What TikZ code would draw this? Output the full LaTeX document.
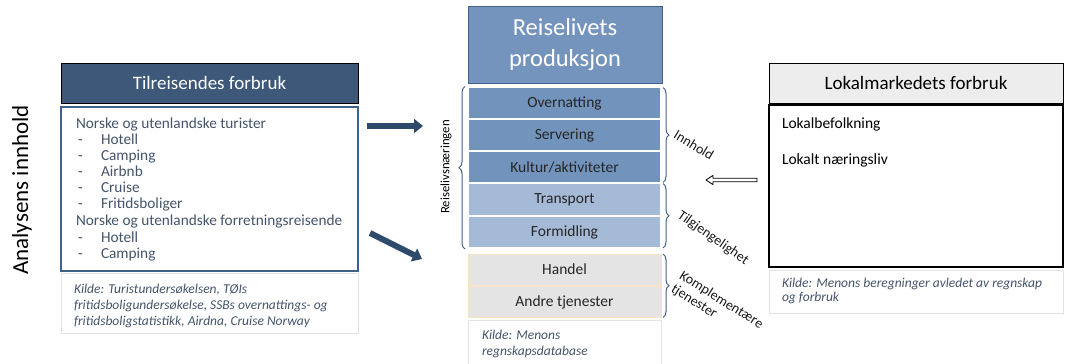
\documentclass[tikz,border=0pt]{standalone}
\usepackage{fontspec}
\setmainfont{Carlito}
\usetikzlibrary{decorations.pathreplacing,arrows.meta,calc}
\definecolor{hdrblue}{HTML}{3D5878}
\definecolor{boxblue}{HTML}{41618A}
\definecolor{midblue}{HTML}{7494BD}
\definecolor{itemblue}{HTML}{7293BC}
\definecolor{lightblue}{HTML}{A5BAD6}
\definecolor{itemgray}{HTML}{E4E4E4}
\definecolor{peach}{HTML}{FAE2C6}
\definecolor{srcgray}{HTML}{E3E3E3}
\definecolor{txtslate}{HTML}{44546A}
\definecolor{arrownavy}{HTML}{2E4A6B}
\newcommand{\fsz}[2]{\fontsize{#1}{#2}\selectfont}
\begin{document}
\begin{tikzpicture}[x=1pt,y=-1pt,
  every node/.style={inner sep=0pt,outer sep=0pt},
  hdrbox/.style={draw=black,line width=1pt,minimum height=40pt},
  srcbox/.style={draw=srcgray,line width=0.8pt},
  srctxt/.style={font=\fsz{13.5}{16}\itshape,text=txtslate,align=left,anchor=west},
  listtxt/.style={font=\fsz{15.3}{17},text=txtslate,anchor=base west},
  itembox/.style={minimum width=193pt,font=\fsz{15.5}{17},text=black!85,draw=white,line width=1.2pt},
  bluegrp/.style={itembox,fill=itemblue},
  lightgrp/.style={itembox,fill=lightblue},
  graygrp/.style={itembox,fill=itemgray,draw=peach,line width=0.8pt},
  bracestyle/.style={draw=boxblue,line width=1pt,decorate,decoration={brace,amplitude=6pt}},
  bracelbl/.style={font=\fsz{14}{15.5},text=black!90},
  thickarrow/.style={draw=arrownavy,line width=6pt,-{Triangle[length=9pt,width=14pt]}}
]
\useasboundingbox (0,0) rectangle (1066,364);
\clip (0,0) rectangle (1066,364);

% ---------- left column ----------
\node[rotate=90,font=\fsz{23}{25}] (ai) at (22,190) {Analysens innhold};
\node[hdrbox,fill=hdrblue,minimum width=297pt,text=white,font=\fsz{19}{21}] (th) at (209.5,83) {Tilreisendes forbruk};
\node[draw=boxblue,line width=1.4pt,minimum width=297pt,minimum height=164pt] (tc) at (209.5,189) {};
\node[srcbox,minimum width=297pt,minimum height=60pt] (ts) at (209.5,303) {};

\node[listtxt] (l1) at (76,128.5) {Norske og utenlandske turister};
\foreach \nm/\yy/\txt in {l2/144.5/Hotell,l3/160.5/Camping,l4/176.5/Airbnb,l5/192.5/Cruise,l6/208/Fritidsboliger,l8/242.5/Hotell,l9/258.5/Camping}{
  \node[listtxt] (\nm d) at (78,\yy) {-};
  \node[listtxt] (\nm) at (101,\yy) {\txt};
}
\node[listtxt] (l7) at (76,225.5) {Norske og utenlandske forretningsreisende};
\node[srctxt,font=\fsz{13.5}{16.3}\itshape] (tst) at (74,306) {Kilde: Turistundersøkelsen, TØIs\\fritidsboligundersøkelse, SSBs overnattings- og\\fritidsboligstatistikk, Airdna, Cruise Norway};

% ---------- middle column ----------
\node[draw=boxblue,line width=1pt,fill=midblue,minimum width=194pt,minimum height=77pt,text=white,font=\fsz{24.5}{31},align=center] (rp) at (565,44.5) {Reiselivets\\produksjon};
\node[bluegrp,minimum height=31pt] (ov) at (564.5,103) {Overnatting};
\node[bluegrp,minimum height=31pt] (se) at (564.5,135) {Servering};
\node[bluegrp,minimum height=31pt] (ku) at (564.5,167) {Kultur/aktiviteter};
\node[lightgrp,minimum height=32pt] (tr) at (564.5,199.5) {Transport};
\node[lightgrp,minimum height=32pt] (fo) at (564.5,232) {Formidling};
\node[graygrp,minimum height=31pt] (ha) at (564.5,269.5) {Handel};
\node[graygrp,minimum height=31pt] (an) at (564.5,302) {Andre tjenester};
\node[srcbox,minimum width=193pt,minimum height=60pt] (ms) at (564.5,350) {};
\node[srctxt] (mst) at (482,344) {Kilde: Menons\\regnskapsdatabase};

% braces
\draw[bracestyle] ($(fo.south west)+(-3,1)$) -- ($(ov.north west)+(-3,-1)$);
\node[rotate=90,font=\fsz{12.8}{14}] (rn) at (446,167) {Reiselivsnæringen};
\draw[bracestyle] ($(ov.north east)+(2,0)$) -- ($(ku.south east)+(2,0)$);
\draw[bracestyle] ($(tr.north east)+(2,0)$) -- ($(fo.south east)+(2,0)$);
\draw[bracestyle] ($(ha.north east)+(2,0)$) -- ($(an.south east)+(2,0)$);
\node[bracelbl,rotate=-31] (lin) at (694,145) {Innhold};
\node[bracelbl,rotate=-35] (ltg) at (713,238) {Tilgjengelighet};
\node[bracelbl,rotate=-32,align=left] (lko) at (717,307) {Komplementære\\tjenester};

% arrows
\coordinate (a1s) at (367,126);
\coordinate (a1e) at (423,126);
\coordinate (a2s) at (370,233);
\coordinate (a2e) at (422,259);
\draw[thickarrow] (a1s) -- (a1e);
\draw[thickarrow] (a2s) -- (a2e);

% ---------- right column ----------
\node[hdrbox,fill=black!7,minimum width=294pt,text=black,font=\fsz{19}{21}] (lh) at (916,83) {Lokalmarkedets forbruk};
\node[draw=black,line width=1.6pt,minimum width=294pt,minimum height=162pt] (lc) at (916,186) {};
\node[font=\fsz{15.5}{17},anchor=base west] (lb) at (782,128) {Lokalbefolkning};
\node[font=\fsz{15.5}{17},anchor=base west] (ln) at (782,164.5) {Lokalt næringsliv};
\node[srcbox,minimum width=294pt,minimum height=43pt] (ls) at (916,291.5) {};
\node[srctxt,font=\fsz{13.5}{14.5}\itshape] (lst) at (782,291) {Kilde: Menons beregninger avledet av regnskap\\og forbruk};

% hollow arrow from local market
\coordinate (a3s) at (757,180);
\draw[black,line width=0.8pt,fill=white] (a3s) -- ++(0,-1.8) -- ++(-44,0) -- ++(0,-2.8) -- ++(-7,4.6) -- ++(7,4.6) -- ++(0,-2.8) -- ++(44,0) -- cycle;
\end{tikzpicture}
\end{document}
